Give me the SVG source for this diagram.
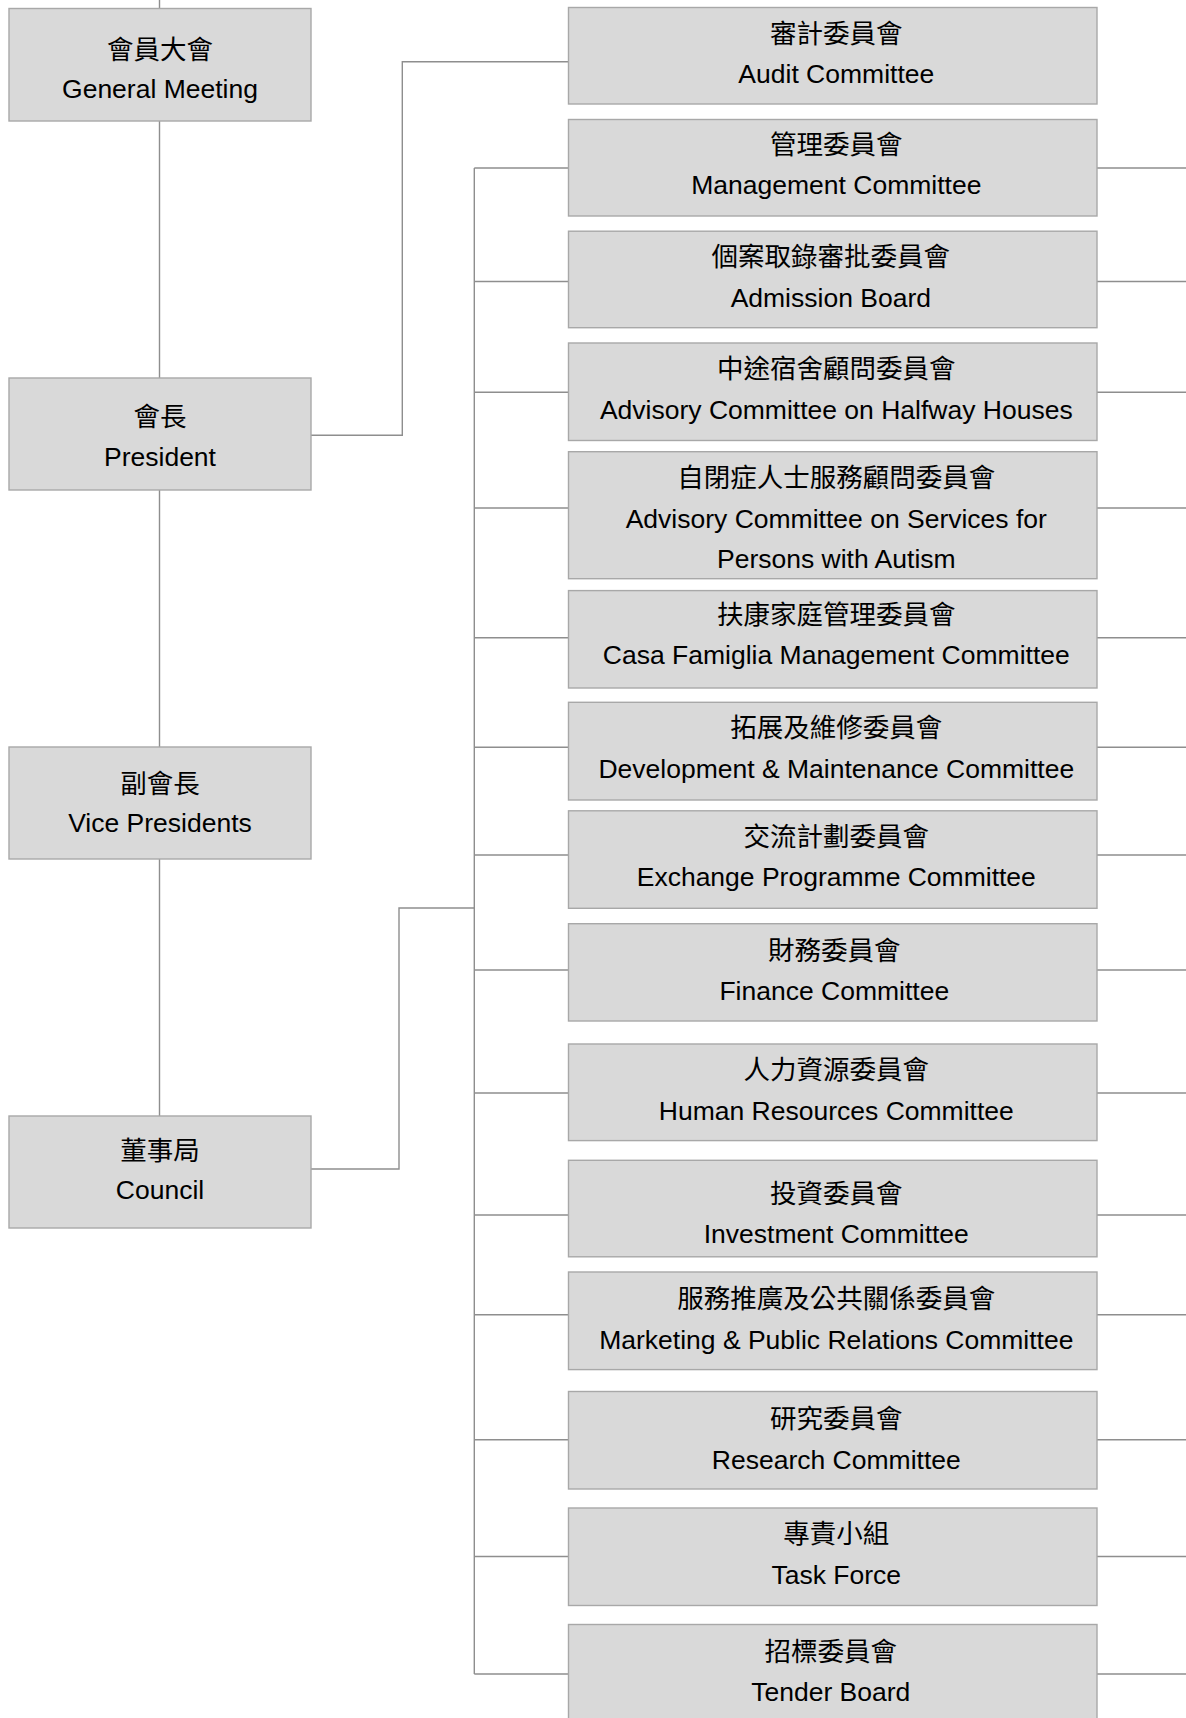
<svg xmlns="http://www.w3.org/2000/svg" width="1186" height="1718" viewBox="0 0 1186 1718">
<style>
.box{fill:#d9d9d9;stroke:#a8a8a8;stroke-width:1.4}
.ln{fill:none;stroke:#8e8e8e;stroke-width:1.4}
text{font-family:"Liberation Sans","Noto Sans CJK TC",sans-serif;font-size:26.5px;fill:#000;text-anchor:middle}
</style>
<rect width="1186" height="1718" fill="#fff"/>
<g id="connectors">
<path class="ln" d="M159.5,0V8.5M159.5,121V378M159.5,490V747M159.5,859V1116"/>
<path class="ln" d="M311,435.3H402.3V61.7H568.5"/>
<path class="ln" d="M311,1169H399V908H474.3"/>
<path class="ln" d="M474.3,168V1674"/>
<path class="ln" d="M474.3,168H568.5M474.3,281.5H568.5M474.3,392.3H568.5M474.3,508H568.5M474.3,637.7H568.5M474.3,747.3H568.5M474.3,855H568.5M474.3,970H568.5M474.3,1093H568.5M474.3,1215H568.5M474.3,1314.8H568.5M474.3,1439.7H568.5M474.3,1556.5H568.5M474.3,1674H568.5"/>
<path class="ln" d="M1097,168H1186M1097,281.5H1186M1097,392.3H1186M1097,508H1186M1097,637.7H1186M1097,747.3H1186M1097,855H1186M1097,970H1186M1097,1093H1186M1097,1215H1186M1097,1314.8H1186M1097,1439.7H1186M1097,1556.5H1186M1097,1674H1186"/>
</g>
<g id="general-meeting"><rect class="box" x="9" y="8.5" width="302" height="112.5"/><text x="160" y="58.5">會員大會</text><text x="160" y="98">General Meeting</text></g>
<g id="president"><rect class="box" x="9" y="378" width="302" height="112"/><text x="160" y="426">會長</text><text x="160" y="465.5">President</text></g>
<g id="vice-presidents"><rect class="box" x="9" y="747" width="302" height="112"/><text x="160" y="792.5">副會長</text><text x="160" y="832">Vice Presidents</text></g>
<g id="council"><rect class="box" x="9" y="1116" width="302" height="112"/><text x="160" y="1159.5">董事局</text><text x="160" y="1199">Council</text></g>

<g id="audit"><rect class="box" x="568.5" y="7.5" width="528.5" height="96.5"/><text x="836.3" y="42.5">審計委員會</text><text x="836.3" y="83">Audit Committee</text></g>
<g id="management"><rect class="box" x="568.5" y="119.5" width="528.5" height="96.5"/><text x="836.3" y="153.5">管理委員會</text><text x="836.3" y="194">Management Committee</text></g>
<g id="admission"><rect class="box" x="568.5" y="231.2" width="528.5" height="96.5"/><text x="830.8" y="266.2">個案取錄審批委員會</text><text x="830.8" y="306.7">Admission Board</text></g>
<g id="halfway"><rect class="box" x="568.5" y="343" width="528.5" height="97.5"/><text x="836.3" y="378">中途宿舍顧問委員會</text><text x="836.3" y="418.5">Advisory Committee on Halfway Houses</text></g>
<g id="autism"><rect class="box" x="568.5" y="451.7" width="528.5" height="127"/><text x="836.3" y="486.7">自閉症人士服務顧問委員會</text><text x="836.3" y="527.5">Advisory Committee on Services for</text><text x="836.3" y="567.5">Persons with Autism</text></g>
<g id="casa"><rect class="box" x="568.5" y="590.6" width="528.5" height="97.4"/><text x="836.3" y="624">扶康家庭管理委員會</text><text x="836.3" y="664.4">Casa Famiglia Management Committee</text></g>
<g id="development"><rect class="box" x="568.5" y="702.3" width="528.5" height="97.7"/><text x="836.3" y="737.3">拓展及維修委員會</text><text x="836.3" y="778">Development &amp; Maintenance Committee</text></g>
<g id="exchange"><rect class="box" x="568.5" y="810.8" width="528.5" height="97.5"/><text x="836.3" y="845.8">交流計劃委員會</text><text x="836.3" y="886.3">Exchange Programme Committee</text></g>
<g id="finance"><rect class="box" x="568.5" y="923.7" width="528.5" height="97.3"/><text x="834.3" y="959.8">財務委員會</text><text x="834.3" y="1000.3">Finance Committee</text></g>
<g id="hr"><rect class="box" x="568.5" y="1044" width="528.5" height="96.6"/><text x="836.3" y="1079">人力資源委員會</text><text x="836.3" y="1119.5">Human Resources Committee</text></g>
<g id="investment"><rect class="box" x="568.5" y="1160.3" width="528.5" height="96.5"/><text x="836.3" y="1202.8">投資委員會</text><text x="836.3" y="1243.3">Investment Committee</text></g>
<g id="marketing"><rect class="box" x="568.5" y="1272" width="528.5" height="97.6"/><text x="836.3" y="1308">服務推廣及公共關係委員會</text><text x="836.3" y="1348.5">Marketing &amp; Public Relations Committee</text></g>
<g id="research"><rect class="box" x="568.5" y="1391.5" width="528.5" height="97.5"/><text x="836.3" y="1428">研究委員會</text><text x="836.3" y="1468.5">Research Committee</text></g>
<g id="task-force"><rect class="box" x="568.5" y="1508" width="528.5" height="97.5"/><text x="836.3" y="1543">專責小組</text><text x="836.3" y="1583.5">Task Force</text></g>
<g id="tender"><rect class="box" x="568.5" y="1624.5" width="528.5" height="97.5"/><text x="830.8" y="1660.5">招標委員會</text><text x="830.8" y="1701">Tender Board</text></g>
</svg>
